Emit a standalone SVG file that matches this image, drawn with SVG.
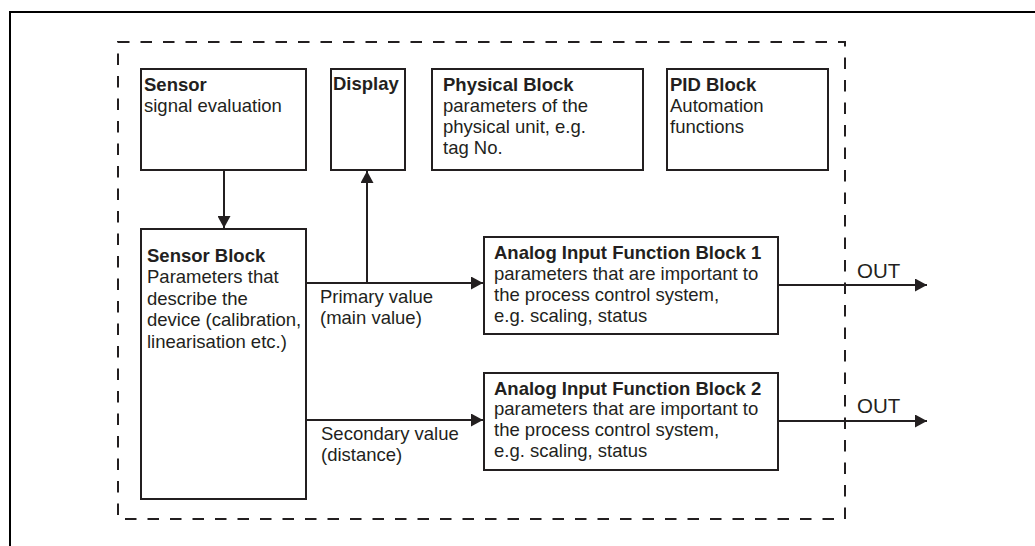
<svg xmlns="http://www.w3.org/2000/svg" width="1035" height="546" viewBox="0 0 1035 546">
<style>
  text { font-family: "Liberation Sans", Arial, sans-serif; font-size: 18.5px; fill: #231f20; }
  .b { font-weight: bold; }
  .out { font-size: 20.5px; }
  .box { fill: #fff; stroke: #231f20; stroke-width: 2; }
  .ln { fill: none; stroke: #231f20; stroke-width: 2; }
</style>
<defs>
  <marker id="ah" markerWidth="12" markerHeight="13" refX="12" refY="6.5" orient="auto" markerUnits="userSpaceOnUse">
    <path d="M0,0 L12,6.5 L0,13 Z" fill="#231f20"/>
  </marker>
</defs>
<rect width="1035" height="546" fill="#fff"/>
<g id="frame">
  <path d="M10,546 V12 H1035" fill="none" stroke="#000" stroke-width="2"/>
  <path d="M118,42 H845 V519 H118 Z" fill="none" stroke="#231f20" stroke-width="2" stroke-dasharray="11.5 11"/>
</g>
<g id="connectors">
  <line class="ln" x1="224" y1="170" x2="224" y2="228" marker-end="url(#ah)"/>
  <line class="ln" x1="367" y1="283" x2="367" y2="171" marker-end="url(#ah)"/>
  <line class="ln" x1="306" y1="283" x2="483" y2="283" marker-end="url(#ah)"/>
  <line class="ln" x1="306" y1="420" x2="483" y2="420" marker-end="url(#ah)"/>
  <line class="ln" x1="778" y1="285" x2="927" y2="285" marker-end="url(#ah)"/>
  <line class="ln" x1="778" y1="421" x2="927" y2="421" marker-end="url(#ah)"/>
  <text x="320" y="303">Primary value</text>
  <text x="320" y="324">(main value)</text>
  <text x="321" y="440">Secondary value</text>
  <text x="321" y="461">(distance)</text>
  <text class="out" x="857" y="278">OUT</text>
  <text class="out" x="857" y="413">OUT</text>
</g>
<g id="sensor">
  <rect class="box" x="141" y="69" width="165" height="101"/>
  <text class="b" x="144" y="90.7">Sensor</text>
  <text x="144" y="111.7">signal evaluation</text>
</g>
<g id="display">
  <rect class="box" x="331" y="69" width="74" height="101"/>
  <text class="b" x="333" y="90">Display</text>
</g>
<g id="physical-block">
  <rect class="box" x="432" y="69" width="211" height="101"/>
  <text class="b" x="443" y="91">Physical Block</text>
  <text x="443" y="112">parameters of the</text>
  <text x="443" y="133">physical unit, e.g.</text>
  <text x="443" y="154">tag No.</text>
</g>
<g id="pid-block">
  <rect class="box" x="667" y="69" width="161" height="101"/>
  <text class="b" x="670" y="91">PID Block</text>
  <text x="670" y="112">Automation</text>
  <text x="670" y="133">functions</text>
</g>
<g id="sensor-block">
  <rect class="box" x="141" y="229" width="165" height="270"/>
  <text class="b" x="147" y="261.7">Sensor Block</text>
  <text x="147" y="283">Parameters that</text>
  <text x="147" y="304.5">describe the</text>
  <text x="147" y="326">device (calibration,</text>
  <text x="147" y="347.5">linearisation etc.)</text>
</g>
<g id="ai-block-1">
  <rect class="box" x="484" y="237" width="294" height="97"/>
  <text class="b" x="494" y="259">Analog Input Function Block 1</text>
  <text x="494" y="280">parameters that are important to</text>
  <text x="494" y="301">the process control system,</text>
  <text x="494" y="322">e.g. scaling, status</text>
</g>
<g id="ai-block-2">
  <rect class="box" x="484" y="373" width="294" height="97"/>
  <text class="b" x="494" y="394.5">Analog Input Function Block 2</text>
  <text x="494" y="415">parameters that are important to</text>
  <text x="494" y="436">the process control system,</text>
  <text x="494" y="457">e.g. scaling, status</text>
</g>
</svg>
